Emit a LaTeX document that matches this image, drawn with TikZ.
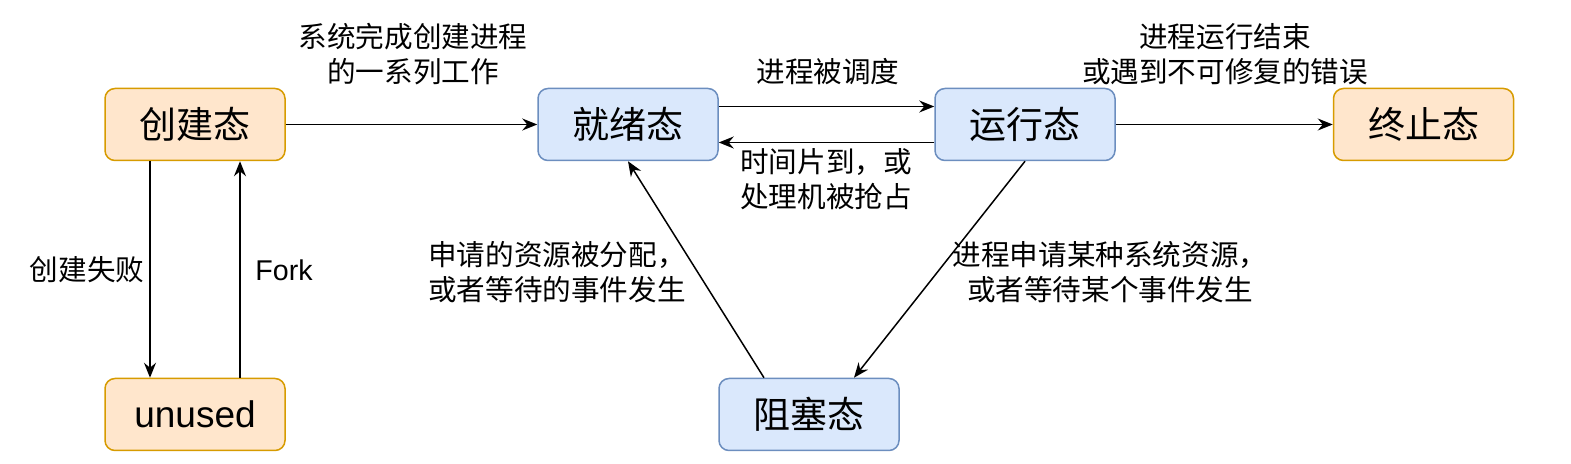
\documentclass[tikz,border=0pt]{standalone}
\usepackage{fontspec}
\setmainfont{Noto Sans CJK SC}
\newfontfamily\arialfont{Liberation Sans}
\usepackage{xcolor}
\usepackage{tikz}
\usetikzlibrary{positioning,arrows.meta}

\definecolor{orangefill}{HTML}{FFE6CC}
\definecolor{orangeline}{HTML}{D79B00}
\definecolor{bluefill}{HTML}{DAE8FC}
\definecolor{blueline}{HTML}{6C8EBF}

\tikzset{
  state/.style={rounded corners=5pt, line width=0.75pt, minimum width=90pt,
    minimum height=36pt, inner sep=0pt, font=\fontsize{18.5}{22}\selectfont},
  orangestate/.style={state, draw=orangeline, fill=orangefill},
  bluestate/.style={state, draw=blueline, fill=bluefill},
  lbl/.style={align=center, inner sep=0pt, font=\fontsize{14.3}{17.5}\selectfont},
  arr/.style={line width=0.75pt, -{Stealth[length=7.5pt,width=6pt,inset=2.5pt]}}
}

\begin{document}
\begin{tikzpicture}[x=0.5pt,y=-0.5pt]
	\useasboundingbox (0,0) rectangle (1571,464);
	% states
	\node[orangestate] (create) at (195,124.5) {创建态};
	\node[orangestate] (unused) at (195,414.5) {\arialfont unused};
	\node[bluestate] (ready) at (628,124.5) {就绪态};
	\node[bluestate] (run) at (1025,124.5) {运行态};
	\node[orangestate] (exit) at (1423.5,124.5) {终止态};
	\node[bluestate] (block) at (809,414.5) {阻塞态};
	% transitions
	\draw[arr] (create) -- (ready);
	\draw[arr] ([yshift=9pt]ready.east) -- ([yshift=9pt]run.west);
	\draw[arr] ([yshift=-9pt]run.west) -- ([yshift=-9pt]ready.east);
	\draw[arr] (run) -- (exit);
	\draw[arr] ([xshift=-22.5pt]create.south) -- ([xshift=-22.5pt]unused.north);
	\draw[arr] ([xshift=22.5pt]unused.north) -- ([xshift=22.5pt]create.south);
	\draw[arr] (run.south) -- ([xshift=22.5pt]block.north);
	\draw[arr] ([xshift=-22.5pt]block.north) -- (ready.south);
	% labels
	\node[lbl] (l1) at (413,54) {系统完成创建进程\\的一系列工作};
	\node[lbl] (l2) at (828,72) {进程被调度};
	\node[lbl] (l3) at (1225,54) {进程运行结束\\或遇到不可修复的错误};
	\node[lbl] (l4) at (826,179) {时间片到，或\\处理机被抢占};
	\node[lbl] (l5) at (557,272) {申请的资源被分配，\\或者等待的事件发生};
	\node[lbl] (l6) at (1110,272) {进程申请某种系统资源，\\或者等待某个事件发生};
	\node[lbl] (l7) at (87,270) {创建失败};
	\node[lbl] (l8) at (284,270) {\arialfont Fork};
\end{tikzpicture}
\end{document}
